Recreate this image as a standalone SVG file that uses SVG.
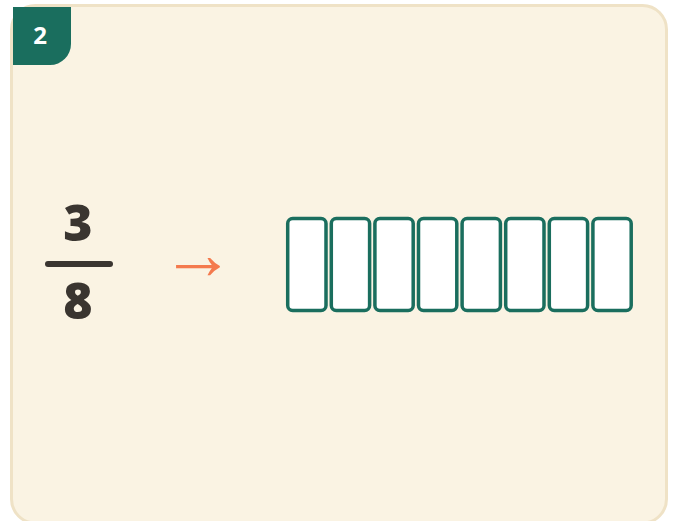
<svg xmlns="http://www.w3.org/2000/svg" width="675" height="521" viewBox="0 0 675 521">
<style>
.box{fill:#FFFFFF;stroke:#1A6E5E;stroke-width:3.5}
.num{font-family:"Open Sans","Noto Sans",sans-serif;font-weight:800;fill:#3A3530;text-anchor:middle}
</style>
<rect width="675" height="521" fill="#FFFFFF"/>
<g id="card">
<rect x="11.5" y="5.5" width="655" height="517.5" rx="24" fill="#FAF3E3" stroke="#EFE2C6" stroke-width="3"/>
</g>
<g id="badge">
<path d="M13 7 H71 V44 A21 21 0 0 1 50 65 H13 Z" fill="#1A6E5E"/>
<text x="40" y="44" font-family="'Open Sans','Noto Sans',sans-serif" font-weight="bold" font-size="24" fill="#FFFFFF" text-anchor="middle">2</text>
</g>
<g id="fraction">
<text class="num" x="78" y="241" font-size="50">3</text>
<line x1="48" y1="264" x2="110" y2="264" stroke="#3A3530" stroke-width="6" stroke-linecap="round"/>
<text class="num" x="78" y="319" font-size="50">8</text>
</g>
<g id="connectors">
<text x="198" y="279" font-family="'Liberation Sans',sans-serif" font-size="74" fill="#F47A4E" text-anchor="middle">→</text>
</g>
<g id="strip">
<rect class="box" x="287.7" y="218.4" width="38.3" height="92.2" rx="5"/>
<rect class="box" x="331.3" y="218.4" width="38.3" height="92.2" rx="5"/>
<rect class="box" x="374.9" y="218.4" width="38.3" height="92.2" rx="5"/>
<rect class="box" x="418.5" y="218.4" width="38.3" height="92.2" rx="5"/>
<rect class="box" x="462.1" y="218.4" width="38.3" height="92.2" rx="5"/>
<rect class="box" x="505.7" y="218.4" width="38.3" height="92.2" rx="5"/>
<rect class="box" x="549.3" y="218.4" width="38.3" height="92.2" rx="5"/>
<rect class="box" x="592.9" y="218.4" width="38.3" height="92.2" rx="5"/>
</g>
</svg>
